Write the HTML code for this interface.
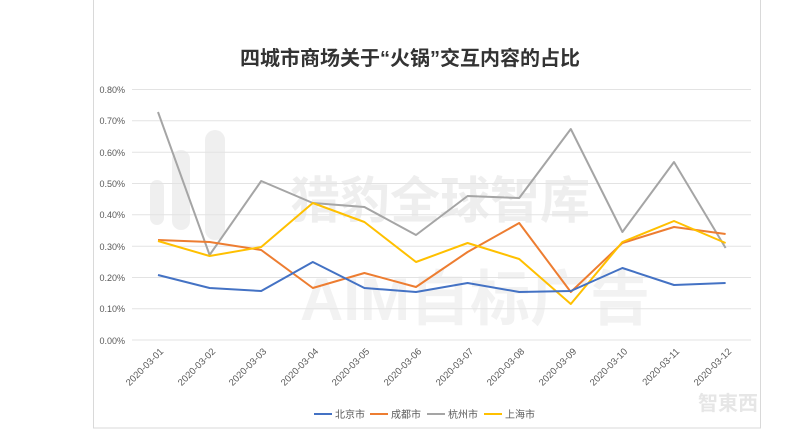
<!DOCTYPE html>
<html><head><meta charset="utf-8"><style>
html,body{margin:0;padding:0;background:#fff;}
svg{display:block;font-family:"Liberation Sans","Noto Sans CJK SC",sans-serif;}
</style></head><body>
<svg width="800" height="440" viewBox="0 0 800 440" xmlns="http://www.w3.org/2000/svg">
<rect x="0" y="0" width="800" height="440" fill="#fff"/>
<rect x="93.5" y="-1" width="667" height="429" fill="none" stroke="#d9d9d9" stroke-width="1"/>
<text x="410" y="65" text-anchor="middle" font-size="20" font-weight="bold" fill="#333">四城市商场关于“火锅”交互内容的占比</text>
<!-- watermark -->
<g fill="#ececec" opacity="0.8">
<rect x="150" y="180" width="14" height="45" rx="7"/>
<rect x="172" y="150" width="18" height="80" rx="9"/>
<rect x="205" y="130" width="20" height="110" rx="10"/>
<text x="290" y="218" font-size="50" font-weight="bold" fill="#ebebeb">猎豹全球智库</text>
<text x="300" y="320" font-size="60" font-weight="bold" fill="#efefef">AIM自标广告</text>
</g>
<g stroke="#e3e3e3" stroke-width="1">
<line x1="132" x2="751" y1="89.5" y2="89.5"/>
<line x1="132" x2="751" y1="120.8" y2="120.8"/>
<line x1="132" x2="751" y1="152.2" y2="152.2"/>
<line x1="132" x2="751" y1="183.5" y2="183.5"/>
<line x1="132" x2="751" y1="214.8" y2="214.8"/>
<line x1="132" x2="751" y1="246.2" y2="246.2"/>
<line x1="132" x2="751" y1="277.5" y2="277.5"/>
<line x1="132" x2="751" y1="308.8" y2="308.8"/>
<line x1="132" x2="751" y1="340" y2="340"/>
</g>
<g font-size="9" fill="#595959" text-anchor="end">
<text x="125" y="93">0.80%</text>
<text x="125" y="124">0.70%</text>
<text x="125" y="156">0.60%</text>
<text x="125" y="187">0.50%</text>
<text x="125" y="218">0.40%</text>
<text x="125" y="250">0.30%</text>
<text x="125" y="281">0.20%</text>
<text x="125" y="312">0.10%</text>
<text x="125" y="344">0.00%</text>
</g>
<g font-size="9.5" fill="#595959" text-anchor="end">
<text transform="translate(164,352) rotate(-45)">2020-03-01</text>
<text transform="translate(216,352) rotate(-45)">2020-03-02</text>
<text transform="translate(267,352) rotate(-45)">2020-03-03</text>
<text transform="translate(319,352) rotate(-45)">2020-03-04</text>
<text transform="translate(370,352) rotate(-45)">2020-03-05</text>
<text transform="translate(422,352) rotate(-45)">2020-03-06</text>
<text transform="translate(474,352) rotate(-45)">2020-03-07</text>
<text transform="translate(525,352) rotate(-45)">2020-03-08</text>
<text transform="translate(577,352) rotate(-45)">2020-03-09</text>
<text transform="translate(628,352) rotate(-45)">2020-03-10</text>
<text transform="translate(680,352) rotate(-45)">2020-03-11</text>
<text transform="translate(732,352) rotate(-45)">2020-03-12</text>
</g>
<g fill="none" stroke-width="2" stroke-linejoin="round">
<polyline stroke="#a5a5a5" points="158,112 209.6,255 261.2,181 312.8,203 364.4,207 416,235 467.6,196 519.2,198 570.8,129 622.4,232 674,162 725.6,248"/>
<polyline stroke="#ed7d31" points="158,240 209.6,242 261.2,250 312.8,288 364.4,273 416,287 467.6,252 519.2,223 570.8,292 622.4,243 674,227 725.6,234"/>
<polyline stroke="#ffc000" points="158,241 209.6,256 261.2,247 312.8,203 364.4,222 416,262 467.6,243 519.2,259 570.8,304 622.4,242 674,221 725.6,243"/>
<polyline stroke="#4472c4" points="158,275 209.6,288 261.2,291 312.8,262 364.4,288 416,292 467.6,283 519.2,292 570.8,291 622.4,268 674,285 725.6,283"/>
</g>
<g font-size="10" fill="#595959">
<line x1="314" x2="332" y1="414" y2="414" stroke="#4472c4" stroke-width="2"/>
<text x="335" y="418">北京市</text>
<line x1="370" x2="388" y1="414" y2="414" stroke="#ed7d31" stroke-width="2"/>
<text x="391" y="418">成都市</text>
<line x1="427" x2="445" y1="414" y2="414" stroke="#a5a5a5" stroke-width="2"/>
<text x="448" y="418">杭州市</text>
<line x1="484" x2="502" y1="414" y2="414" stroke="#ffc000" stroke-width="2"/>
<text x="505" y="418">上海市</text>
</g>
<text x="698" y="410" font-size="20" font-weight="bold" fill="#e6e6e6">智東西</text>
</svg>
</body></html>
